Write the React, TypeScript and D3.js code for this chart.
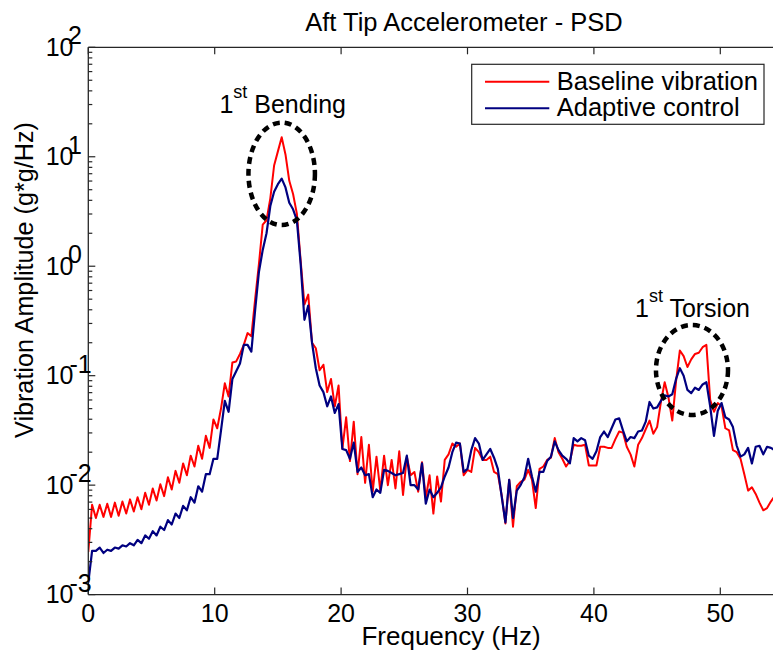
import React from "react";
import * as d3 from "d3";

// Frequency resolution of the PSD (Hz between samples)
const DF = 0.3;

// Baseline vibration PSD (g*g/Hz), sampled every DF Hz from 0 Hz
const baseline = [
  2.45e-3, 6.61e-3, 5.01e-3, 6.61e-3, 5.13e-3, 6.76e-3, 5.13e-3, 6.92e-3, 5.25e-3, 7.08e-3,
  5.50e-3, 7.41e-3, 5.75e-3, 7.76e-3, 6.03e-3, 8.51e-3, 6.61e-3, 9.33e-3, 7.24e-3, 1.02e-2,
  7.94e-3, 1.18e-2, 9.12e-3, 1.35e-2, 1.05e-2, 1.58e-2, 1.23e-2, 1.86e-2, 1.48e-2, 2.29e-2,
  1.74e-2, 2.82e-2, 2.19e-2, 3.98e-2, 3.31e-2, 5.01e-2, 8.51e-2, 6.46e-2, 0.132, 0.135,
  0.158, 0.191, 0.245, 0.229, 0.501, 1.05, 2.40, 2.63, 4.17, 8.32,
  11.2, 15.1, 10.5, 6.03, 4.57, 3.02, 1.12, 0.447, 0.550, 0.200,
  0.178, 0.112, 0.126, 7.08e-2, 9.33e-2, 5.25e-2, 8.13e-2, 2.14e-2, 4.17e-2, 1.66e-2,
  3.80e-2, 1.26e-2, 2.75e-2, 1.05e-2, 2.34e-2, 8.71e-3, 1.82e-2, 8.91e-3, 1.86e-2, 1.00e-2,
  1.70e-2, 9.33e-3, 2.04e-2, 8.13e-3, 1.82e-2, 1.23e-2, 1.32e-2, 8.71e-3, 1.62e-2, 7.59e-3,
  1.23e-2, 5.50e-3, 1.20e-2, 7.08e-3, 1.70e-2, 1.91e-2, 2.40e-2, 2.24e-2, 2.40e-2, 1.23e-2,
  1.38e-2, 1.32e-2, 2.19e-2, 2.00e-2, 1.70e-2, 1.70e-2, 1.82e-2, 1.32e-2, 1.26e-2, 8.13e-3,
  4.47e-3, 1.12e-2, 4.17e-3, 9.77e-3, 1.07e-2, 1.12e-2, 1.38e-2, 1.12e-2, 6.17e-3, 1.41e-2,
  1.48e-2, 1.70e-2, 1.78e-2, 2.69e-2, 2.00e-2, 1.74e-2, 1.48e-2, 1.66e-2, 2.34e-2, 2.29e-2,
  2.29e-2, 2.34e-2, 1.51e-2, 1.51e-2, 1.51e-2, 2.24e-2, 2.24e-2, 2.19e-2, 2.19e-2, 2.63e-2,
  3.09e-2, 3.02e-2, 2.24e-2, 1.91e-2, 1.48e-2, 2.34e-2, 2.69e-2, 3.24e-2, 3.89e-2, 2.95e-2,
  3.39e-2, 5.75e-2, 8.71e-2, 6.31e-2, 3.89e-2, 8.91e-2, 0.170, 0.151, 0.120, 0.141,
  0.158, 0.162, 0.182, 0.191, 6.03e-2, 4.68e-2, 5.62e-2, 5.25e-2, 3.31e-2, 3.16e-2,
  2.09e-2, 2.00e-2, 1.74e-2, 1.26e-2, 8.91e-3, 9.55e-3, 8.32e-3, 6.92e-3, 5.89e-3, 6.17e-3,
  7.08e-3, 7.94e-3, 7.59e-3, 7.94e-3,
];

// Adaptive control PSD (g*g/Hz), same frequency grid
const adaptive = [
  1.29e-3, 2.51e-3, 2.51e-3, 2.69e-3, 2.40e-3, 2.57e-3, 2.51e-3, 2.69e-3, 2.63e-3, 2.82e-3,
  2.75e-3, 2.95e-3, 2.82e-3, 3.16e-3, 2.95e-3, 3.47e-3, 3.24e-3, 3.80e-3, 3.47e-3, 4.17e-3,
  3.89e-3, 4.79e-3, 4.37e-3, 5.50e-3, 5.01e-3, 6.46e-3, 5.89e-3, 7.76e-3, 6.92e-3, 9.77e-3,
  8.71e-3, 1.26e-2, 1.26e-2, 1.74e-2, 1.74e-2, 3.16e-2, 5.89e-2, 4.68e-2, 9.33e-2, 0.110,
  0.129, 0.191, 0.191, 0.166, 0.398, 0.891, 1.41, 2.00, 3.55, 4.79,
  5.62, 6.31, 5.25, 3.80, 3.31, 2.63, 1.05, 0.324, 0.437, 0.200,
  0.117, 8.13e-2, 7.08e-2, 5.25e-2, 6.46e-2, 4.57e-2, 5.50e-2, 2.14e-2, 2.09e-2, 1.74e-2,
  2.45e-2, 1.32e-2, 1.45e-2, 1.23e-2, 1.26e-2, 7.76e-3, 9.12e-3, 8.51e-3, 1.38e-2, 1.35e-2,
  1.29e-2, 1.23e-2, 1.26e-2, 1.29e-2, 1.86e-2, 1.00e-2, 1.00e-2, 9.12e-3, 1.58e-2, 6.76e-3,
  9.12e-3, 7.76e-3, 8.51e-3, 9.55e-3, 1.20e-2, 1.45e-2, 2.00e-2, 2.45e-2, 2.40e-2, 1.32e-2,
  1.41e-2, 2.09e-2, 2.69e-2, 2.40e-2, 1.70e-2, 1.91e-2, 2.14e-2, 1.78e-2, 1.41e-2, 7.94e-3,
  4.57e-3, 1.12e-2, 5.01e-3, 8.91e-3, 1.00e-2, 1.18e-2, 1.74e-2, 1.20e-2, 8.71e-3, 1.32e-2,
  1.32e-2, 1.66e-2, 1.82e-2, 2.51e-2, 2.09e-2, 1.86e-2, 1.74e-2, 1.58e-2, 2.69e-2, 2.51e-2,
  2.69e-2, 2.57e-2, 1.86e-2, 1.74e-2, 2.04e-2, 2.75e-2, 3.09e-2, 2.75e-2, 3.31e-2, 3.98e-2,
  4.07e-2, 3.16e-2, 2.51e-2, 2.75e-2, 2.69e-2, 3.09e-2, 3.16e-2, 3.80e-2, 5.75e-2, 5.01e-2,
  5.13e-2, 5.89e-2, 6.61e-2, 6.46e-2, 6.76e-2, 9.33e-2, 0.117, 0.100, 7.41e-2, 6.92e-2,
  7.76e-2, 7.41e-2, 8.32e-2, 8.71e-2, 5.25e-2, 2.82e-2, 4.79e-2, 5.62e-2, 4.17e-2, 3.98e-2,
  3.39e-2, 2.29e-2, 1.82e-2, 1.91e-2, 2.19e-2, 1.58e-2, 2.24e-2, 2.29e-2, 1.91e-2, 2.24e-2,
  2.19e-2, 2.09e-2, 2.19e-2, 2.00e-2,
];

const seriesNames = ["Baseline vibration", "Adaptive control"];
const seriesColors = ["#ff0000", "#000080"];
const xTicks = [0, 10, 20, 30, 40, 50];
const yExponents = [-3, -2, -1, 0, 1, 2];
const TITLE = "Aft Tip Accelerometer - PSD";
const XLABEL = "Frequency (Hz)";
const YLABEL = "Vibration Amplitude (g*g/Hz)";

// annotations: [label, text x (Hz), text baseline (value), ellipse cx (Hz), cy (value), half width (Hz), half height (decades)]
const annotations: [string, number, number, number, number, number, number][] = [
  ["Bending", 10.37, 24.9, 15.3, 6.98, 2.63, 0.468],
  ["Torsion", 43.25, 0.346, 47.76, 0.1127, 2.85, 0.411],
];

const FONT = "'Liberation Sans', Arial, Helvetica, sans-serif";

export default function App() {
  const W = 773;
  const H = 654;
  const left = 88.3, right = 846.7, top = 47.3, bottom = 594.6;
  const x = d3.scaleLinear().domain([0, 60]).range([left, right]);
  const y = d3.scaleLog().domain([1e-3, 1e2]).range([bottom, top]);

  const line = d3
    .line<number>()
    .x((_, i) => x(i * DF))
    .y((d) => y(d));

  const minorTicks: number[] = [];
  for (let e = -3; e < 2; e++) {
    for (let m = 2; m <= 9; m++) minorTicks.push(m * Math.pow(10, e));
  }

  const axisColor = "#262626";
  const tickFont = 25;

  return (
    <svg
      width={W}
      height={H}
      style={{ position: "absolute", left: 0, top: 0, background: "#fff" }}
      fontFamily={FONT}
    >
      <defs>
        <clipPath id="plotclip">
          <rect x={left} y={top} width={right - left} height={bottom - top} />
        </clipPath>
      </defs>
      <rect x={0} y={0} width={W} height={H} fill="#fff" />

      {/* data lines */}
      <g clipPath="url(#plotclip)">
        <path d={line(baseline) || ""} fill="none" stroke={seriesColors[0]} strokeWidth={2} strokeLinejoin="round" />
        <path d={line(adaptive) || ""} fill="none" stroke={seriesColors[1]} strokeWidth={2.2} strokeLinejoin="round" />
      </g>

      {/* axes frame */}
      <g stroke={axisColor} strokeWidth={1.3} fill="none">
        <line x1={left} y1={top} x2={right} y2={top} />
        <line x1={left} y1={bottom} x2={right} y2={bottom} />
        <line x1={left} y1={top} x2={left} y2={bottom} />
        <line x1={right} y1={top} x2={right} y2={bottom} />
      </g>

      {/* x ticks */}
      <g stroke={axisColor} strokeWidth={1.2}>
        {xTicks.map((t) => (
          <g key={"xt" + t}>
            <line x1={x(t)} x2={x(t)} y1={bottom} y2={bottom - 7} />
            <line x1={x(t)} x2={x(t)} y1={top} y2={top + 7} />
          </g>
        ))}
      </g>
      <g fontSize={tickFont} textAnchor="middle" fill="#000">
        {xTicks.map((t) => (
          <text key={"xl" + t} x={x(t)} y={bottom + 27}>
            {t}
          </text>
        ))}
      </g>

      {/* y ticks */}
      <g stroke={axisColor} strokeWidth={1.2}>
        {yExponents.map((e) => (
          <g key={"yt" + e}>
            <line x1={left} x2={left + 7} y1={y(Math.pow(10, e))} y2={y(Math.pow(10, e))} />
            <line x1={right} x2={right - 7} y1={y(Math.pow(10, e))} y2={y(Math.pow(10, e))} />
          </g>
        ))}
        {minorTicks.map((t, i) => (
          <line key={"ym" + i} x1={left} x2={left + 4} y1={y(t)} y2={y(t)} />
        ))}
      </g>
      <g fontSize={tickFont} fill="#000">
        {yExponents.map((e) => (
          <text key={"yl" + e} x={45.7} y={y(Math.pow(10, e)) + 8.5} textAnchor="start">
            10
            <tspan dx={e < 0 ? -4 : -5.5} dy={-11.5}>
              {e < 0 ? "-" + Math.abs(e) : String(e)}
            </tspan>
          </text>
        ))}
      </g>

      {/* title and axis labels */}
      <text x={464} y={31} textAnchor="middle" fontSize={25.5} fill="#000">
        {TITLE}
      </text>
      <text x={451} y={645} textAnchor="middle" fontSize={26} fill="#000">
        {XLABEL}
      </text>
      <text
        transform={`translate(33,280) rotate(-90)`}
        textAnchor="middle"
        fontSize={25.2}
        fill="#000"
      >
        {YLABEL}
      </text>

      {/* annotations */}
      {annotations.map(([label, tx, ty, cx, cy, hw, hd]) => {
        const ex = x(cx);
        const ey = y(cy);
        const rx = x(cx + hw) - ex;
        const ry = (y(cy / Math.pow(10, hd)) - y(cy * Math.pow(10, hd))) / 2;
        return (
          <g key={label}>
            <ellipse
              cx={ex}
              cy={ey}
              rx={rx}
              ry={ry}
              fill="none"
              stroke="#000"
              strokeWidth={4.5}
              strokeDasharray="7 5"
            />
            <text x={x(tx)} y={y(ty)} fontSize={25} fill="#000">
              1
              <tspan dy={-15} fontSize={18}>
                st
              </tspan>
              <tspan dy={15} fontSize={25}>
                {" " + label}
              </tspan>
            </text>
          </g>
        );
      })}

      {/* legend */}
      <g>
        <rect x={471.7} y={64.3} width={292.3} height={60} fill="#fff" stroke={axisColor} strokeWidth={1.2} />
        {seriesNames.map((n, i) => (
          <g key={n}>
            <line
              x1={485}
              x2={549.3}
              y1={81.7 + i * 26.6}
              y2={81.7 + i * 26.6}
              stroke={seriesColors[i]}
              strokeWidth={2}
            />
            <text x={556.7} y={89.5 + i * 26.6} fontSize={25.5} fill="#000">
              {n}
            </text>
          </g>
        ))}
      </g>
    </svg>
  );
}
